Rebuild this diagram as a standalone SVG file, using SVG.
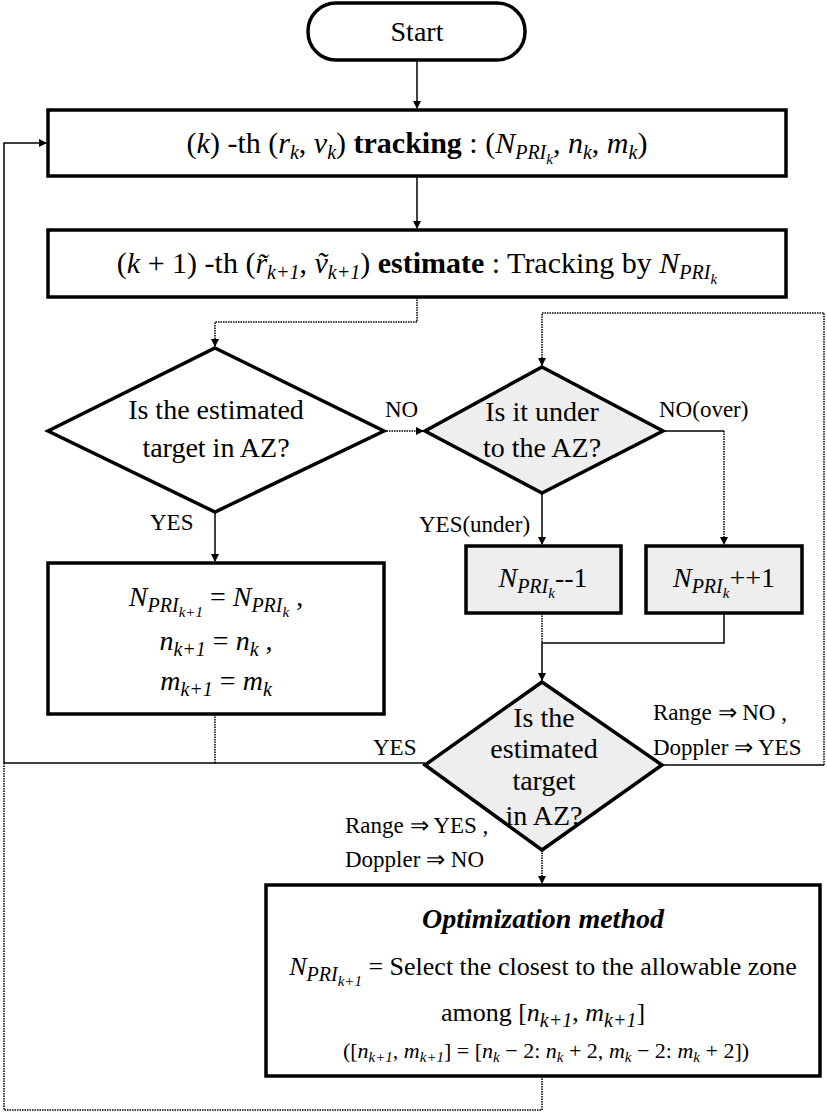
<svg xmlns="http://www.w3.org/2000/svg" width="827" height="1114" viewBox="0 0 827 1114">
<style>
text{font-family:"Liberation Serif","Times New Roman",serif;fill:#000}
.t{font-size:28px;text-anchor:middle}
.m{font-size:28px;text-anchor:middle}
.w{font-size:30px}
.lb{font-size:23px}
.i{font-style:italic}
.b{font-weight:bold}
.s{font-size:20px;font-style:italic}
.ss{font-size:15px;font-style:italic}
.box{fill:#fff;stroke:#000;stroke-width:3.5}
.gbox{fill:#eeeeee;stroke:#000;stroke-width:3.5}
.c{fill:none;stroke:#000;stroke-width:1.5}
.d{fill:none;stroke:#000;stroke-width:1.5;stroke-dasharray:1.5 1}
</style>
<defs>
<marker id="ah" markerWidth="8" markerHeight="8" refX="7" refY="4" orient="auto" markerUnits="userSpaceOnUse">
<path d="M0,0 L8,4 L0,8 Z" fill="#000"/>
</marker>
</defs>
<g id="connectors">
<path class="c" d="M417,60 V108" marker-end="url(#ah)"/>
<path class="c" d="M417,176 V228" marker-end="url(#ah)"/>
<path class="c" d="M4,763 V143 H46" marker-end="url(#ah)"/>
<path class="d" d="M417,297 V322 H215 V346" marker-end="url(#ah)"/>
<path class="d" d="M384,431 H423" marker-end="url(#ah)"/>
<path class="d" d="M824,765 V313 H542 V365" marker-end="url(#ah)"/>
<path class="c" d="M663,431 H724"/>
<path class="d" d="M724,431 V544" marker-end="url(#ah)"/>
<path class="c" d="M542,493 V544" marker-end="url(#ah)"/>
<path class="c" d="M215,512 V561" marker-end="url(#ah)"/>
<path class="d" d="M215,714 V763"/>
<path class="c" d="M4,763 H425"/>
<path class="d" d="M542,613 V643"/>
<path class="c" d="M724,613 V643 H542 V680" marker-end="url(#ah)"/>
<path class="c" d="M662,765 H824"/>
<path class="d" d="M542,850 V883" marker-end="url(#ah)"/>
<path class="d" d="M542,1076 V1110 H4 V763"/>
</g>
<g id="start">
<rect x="308" y="3" width="217" height="57" rx="28" ry="28" class="box"/>
<text class="t" x="417" y="41">Start</text>
</g>
<g id="tracking">
<rect x="48" y="110" width="738" height="66" class="box"/>
<text class="m w" x="417" y="153">(<tspan class="i">k</tspan>) -th (<tspan class="i">r</tspan><tspan class="s" dy="6">k</tspan><tspan dy="-6">, </tspan><tspan class="i">v</tspan><tspan class="s" dy="6">k</tspan><tspan dy="-6">) </tspan><tspan class="b">tracking</tspan> : (<tspan class="i">N</tspan><tspan class="s" dy="6">PRI</tspan><tspan class="ss" dy="5">k</tspan><tspan dy="-11">, </tspan><tspan class="i">n</tspan><tspan class="s" dy="6">k</tspan><tspan dy="-6">, </tspan><tspan class="i">m</tspan><tspan class="s" dy="6">k</tspan><tspan dy="-6">)</tspan></text>
</g>
<g id="estimate">
<rect x="48" y="230" width="738" height="67" class="box"/>
<text class="m w" x="417" y="273">(<tspan class="i">k</tspan> + 1) -th (<tspan class="i">r̃</tspan><tspan class="s" dy="6">k+1</tspan><tspan dy="-6">, </tspan><tspan class="i">ṽ</tspan><tspan class="s" dy="6">k+1</tspan><tspan dy="-6">) </tspan><tspan class="b">estimate</tspan> : Tracking by <tspan class="i">N</tspan><tspan class="s" dy="6">PRI</tspan><tspan class="ss" dy="5">k</tspan></text>
</g>
<g id="decision1">
<polygon points="215,348 384,431 215,512 48,431" class="box"/>
<text class="t" x="216" y="419">Is the estimated</text>
<text class="t" x="216" y="457">target in AZ?</text>
</g>
<g id="decision2">
<polygon points="542,367 663,431 542,493 425,431" class="gbox"/>
<text class="t" x="542" y="421">Is it under</text>
<text class="t" x="542" y="457">to the AZ?</text>
</g>
<g id="keep">
<rect x="48" y="563" width="336" height="151" class="box"/>
<text class="m" x="216" y="606"><tspan class="i">N</tspan><tspan class="s" dy="6">PRI</tspan><tspan class="ss" dy="5">k+1</tspan><tspan dy="-11"> = </tspan><tspan class="i">N</tspan><tspan class="s" dy="6">PRI</tspan><tspan class="ss" dy="5">k</tspan><tspan dy="-11"> ,</tspan></text>
<text class="m" x="216" y="650"><tspan class="i">n</tspan><tspan class="s" dy="6">k+1</tspan><tspan dy="-6"> = </tspan><tspan class="i">n</tspan><tspan class="s" dy="6">k</tspan><tspan dy="-6"> ,</tspan></text>
<text class="m" x="216" y="690"><tspan class="i">m</tspan><tspan class="s" dy="6">k+1</tspan><tspan dy="-6"> = </tspan><tspan class="i">m</tspan><tspan class="s" dy="6">k</tspan></text>
</g>
<g id="dec">
<rect x="466" y="546" width="155" height="67" class="gbox"/>
<text class="m" x="543" y="587"><tspan class="i">N</tspan><tspan class="s" dy="6">PRI</tspan><tspan class="ss" dy="5">k</tspan><tspan dy="-11">--1</tspan></text>
</g>
<g id="inc">
<rect x="646" y="546" width="156" height="67" class="gbox"/>
<text class="m" x="724" y="587"><tspan class="i">N</tspan><tspan class="s" dy="6">PRI</tspan><tspan class="ss" dy="5">k</tspan><tspan dy="-11">++1</tspan></text>
</g>
<g id="decision3">
<polygon points="542,682 662,765 542,850 425,765" class="gbox"/>
<text class="t" x="544" y="727">Is the</text>
<text class="t" x="544" y="758">estimated</text>
<text class="t" x="544" y="790">target</text>
<text class="t" x="544" y="825">in AZ?</text>
</g>
<g id="optimization">
<rect x="266" y="885" width="554" height="191" class="box"/>
<text class="i b" x="543" y="928" style="font-size:28px;text-anchor:middle">Optimization method</text>
<text class="m" x="543" y="975" style="font-size:26px"><tspan class="i">N</tspan><tspan class="s" dy="6">PRI</tspan><tspan class="ss" dy="5">k+1</tspan><tspan dy="-11"> = Select the closest to the allowable zone</tspan></text>
<text class="m" x="543" y="1021" style="font-size:26px">among [<tspan class="i">n</tspan><tspan class="s" dy="6">k+1</tspan><tspan dy="-6">,  </tspan><tspan class="i">m</tspan><tspan class="s" dy="6">k+1</tspan><tspan dy="-6">]</tspan></text>
<text x="546" y="1058" style="font-size:22px;text-anchor:middle">([<tspan class="i">n</tspan><tspan class="ss" dy="4">k+1</tspan><tspan dy="-4">,  </tspan><tspan class="i">m</tspan><tspan class="ss" dy="4">k+1</tspan><tspan dy="-4">] = [</tspan><tspan class="i">n</tspan><tspan class="ss" dy="4">k</tspan><tspan dy="-4"> − 2: </tspan><tspan class="i">n</tspan><tspan class="ss" dy="4">k</tspan><tspan dy="-4"> + 2, </tspan><tspan class="i">m</tspan><tspan class="ss" dy="4">k</tspan><tspan dy="-4"> − 2: </tspan><tspan class="i">m</tspan><tspan class="ss" dy="4">k</tspan><tspan dy="-4"> + 2])</tspan></text>
</g>
<g id="labels">
<text class="lb" x="385" y="417">NO</text>
<text class="lb" x="659" y="417">NO(over)</text>
<text class="lb" x="150" y="530">YES</text>
<text class="lb" x="419" y="532">YES(under)</text>
<text class="lb" x="373" y="755">YES</text>
<text class="lb" x="653" y="720">Range ⇒ NO ,</text>
<text class="lb" x="653" y="755">Doppler ⇒ YES</text>
<text class="lb" x="345" y="833">Range ⇒ YES ,</text>
<text class="lb" x="345" y="867">Doppler ⇒ NO</text>
</g>
</svg>
